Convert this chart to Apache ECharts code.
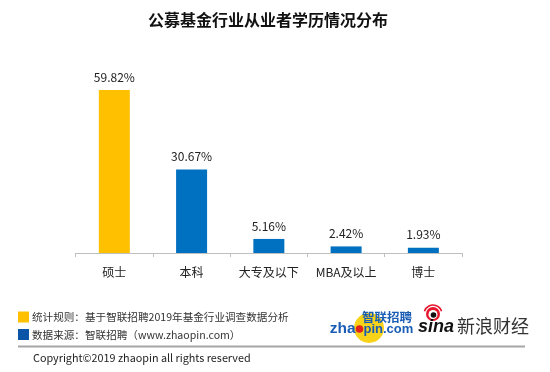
<!DOCTYPE html>
<html><head><meta charset="utf-8">
<script src="https://cdn.jsdelivr.net/npm/echarts@6/dist/echarts.min.js"></script>
<style>html,body{margin:0;padding:0;background:#fff}#c{width:550px;height:372px}</style>
</head><body><div id="c"></div>
<script>
const titleText = '公募基金行业从业者学历情况分布';
const categories = ['硕士', '本科', '大专及以下', 'MBA及以上', '博士'];
const values = [59.82, 30.67, 5.16, 2.42, 1.93];
const highlightIndex = 0;
const noteRule = '统计规则：基于智联招聘2019年基金行业调查数据分析';
const noteSource = '数据来源：智联招聘（www.zhaopin.com）';
const copyrightText = 'Copyright©2019 zhaopin all rights reserved';

const FONT = '"Noto Sans CJK SC", "Noto Sans", sans-serif';
const LOGO = '"Liberation Sans", Arial, sans-serif';
const chart = echarts.init(document.getElementById('c'), null, {renderer: 'canvas'});
chart.setOption({
  animation: false,
  backgroundColor: '#fff',
  grid: {left: 75.7, right: 88, top: 62.3, bottom: 119},
  xAxis: {
    type: 'category', data: categories,
    axisLine: {lineStyle: {color: '#BFBFBF', width: 1}},
    axisTick: {show: true, length: 4, lineStyle: {color: '#BFBFBF'}},
    axisLabel: {interval: 0, color: '#222', fontSize: 12, fontFamily: FONT, margin: 13}
  },
  yAxis: {type: 'value', min: 0, max: 70, show: false, splitLine: {show: false}},
  series: [{
    type: 'bar', data: values, barWidth: 31,
    itemStyle: {color: p => p.dataIndex === highlightIndex ? '#FFC000' : '#0070C0'},
    label: {show: true, position: 'top', distance: 7, color: '#222', fontSize: 12, fontFamily: FONT,
      formatter: p => p.value.toFixed(2) + '%'}
  }],
  graphic: [
    {type: 'text', left: 148, top: 12, style: {text: titleText, font: 'bold 16px ' + FONT, fill: '#111'}},
    {type: 'rect', shape: {x: 18, y: 311.5, width: 11, height: 11}, style: {fill: '#FFC000'}},
    {type: 'rect', shape: {x: 18, y: 329, width: 11, height: 11}, style: {fill: '#0B55A8'}},
    {type: 'text', x: 32, y: 317, style: {text: noteRule, font: '10.6px ' + FONT, fill: '#333', verticalAlign: 'middle'}},
    {type: 'text', x: 32, y: 334.5, style: {text: noteSource, font: '10.6px ' + FONT, fill: '#333', verticalAlign: 'middle'}},
    {type: 'line', shape: {x1: 18, y1: 346.5, x2: 525, y2: 346.5}, style: {stroke: '#A6A6A6', lineWidth: 2}},
    {type: 'text', x: 33, y: 357.5, style: {text: copyrightText, font: '10.8px ' + FONT, fill: '#222', verticalAlign: 'middle'}},
    // zhaopin logo
    {type: 'circle', shape: {cx: 369, cy: 328, r: 15}, style: {fill: '#F9D21A'}},
    {type: 'text', x: 362, y: 317, style: {text: '智联招聘', font: 'bold 12.5px ' + FONT, fill: '#1A5DB5', verticalAlign: 'middle'}},
    {type: 'text', x: 355.5, y: 329, style: {text: 'zha', font: 'bold 15.5px ' + LOGO, fill: '#1A5DB5', verticalAlign: 'middle', align: 'right'}},
    {type: 'circle', shape: {cx: 359.5, cy: 329, r: 3.8}, style: {fill: '#E2231A'}},
    {type: 'text', x: 363.5, y: 329, style: {text: 'pin.com', font: 'bold 13px ' + LOGO, fill: '#1A5DB5', verticalAlign: 'middle'}},
    // sina logo
    {type: 'circle', shape: {cx: 433, cy: 314, r: 7}, style: {fill: '#E6162D'}},
    {type: 'circle', shape: {cx: 433, cy: 314.5, r: 4.5}, style: {fill: '#fff'}},
    {type: 'circle', shape: {cx: 433.5, cy: 315, r: 2.8}, style: {fill: '#111'}},
    {type: 'arc', shape: {cx: 433, cy: 314, r: 9, startAngle: Math.PI * 1.1, endAngle: Math.PI * 1.9}, style: {stroke: '#E6162D', lineWidth: 1.6, fill: null}},
    {type: 'text', x: 418, y: 327, style: {text: 'sina', font: 'italic bold 18px ' + LOGO, fill: '#111', verticalAlign: 'middle'}},
    {type: 'text', x: 457, y: 326, style: {text: '新浪财经', font: '18px ' + FONT, fill: '#333', verticalAlign: 'middle'}}
  ]
});
</script></body></html>
